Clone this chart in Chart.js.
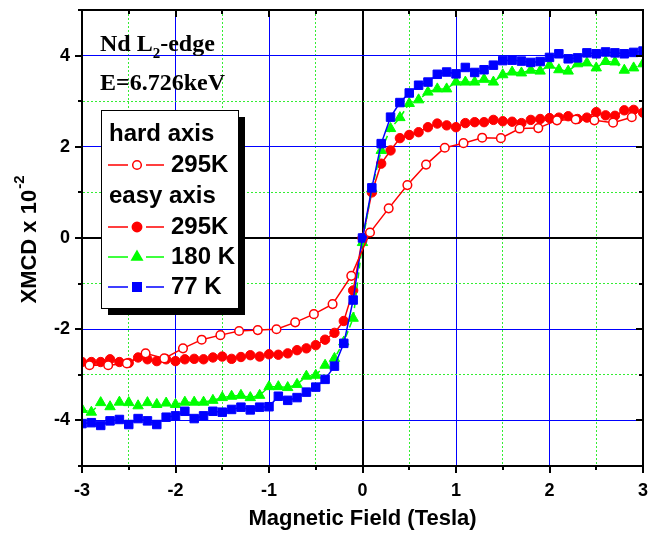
<!DOCTYPE html>
<html>
<head>
<meta charset="utf-8">
<script src="https://cdn.jsdelivr.net/npm/chart.js@4.4.0/dist/chart.umd.min.js"></script>
<style>
  html, body { margin: 0; padding: 0; background: #fff; }
</style>
</head>
<body>
<canvas id="myChart" width="659" height="533"></canvas>
<script>
// field values (Tesla)
let fieldEasy = [-3.0, -2.9, -2.8, -2.7, -2.6, -2.5, -2.4, -2.3, -2.2, -2.1,
  -2.0, -1.9, -1.8, -1.7, -1.6, -1.5, -1.4, -1.3, -1.2, -1.1,
  -1.0, -0.9, -0.8, -0.7, -0.6, -0.5, -0.4, -0.3, -0.2, -0.1,
  0.0, 0.1, 0.2, 0.3, 0.4, 0.5, 0.6, 0.7, 0.8, 0.9,
  1.0, 1.1, 1.2, 1.3, 1.4, 1.5, 1.6, 1.7, 1.8, 1.9,
  2.0, 2.1, 2.2, 2.3, 2.4, 2.5, 2.6, 2.7, 2.8, 2.9, 3.0];
let fieldHard = [-2.92, -2.72, -2.52, -2.32, -2.12, -1.92, -1.72, -1.52, -1.32, -1.12,
  -0.92, -0.72, -0.52, -0.32, -0.12, 0.08, 0.28, 0.48, 0.68, 0.88,
  1.08, 1.28, 1.48, 1.68, 1.88, 2.08, 2.28, 2.48, 2.68, 2.88];

// XMCD x 10^-2
let hard295 = [-2.79, -2.79, -2.75, -2.53, -2.64, -2.42, -2.23, -2.13, -2.04, -2.02,
  -2.00, -1.85, -1.67, -1.45, -0.83, 0.12, 0.65, 1.16, 1.61, 1.98,
  2.08, 2.20, 2.19, 2.40, 2.41, 2.58, 2.60, 2.58, 2.53, 2.65];
let easy295 = [-2.72, -2.72, -2.72, -2.66, -2.72, -2.74, -2.62, -2.66, -2.70, -2.66,
  -2.70, -2.66, -2.65, -2.66, -2.62, -2.60, -2.65, -2.61, -2.57, -2.60,
  -2.55, -2.56, -2.53, -2.46, -2.42, -2.35, -2.23, -2.08, -1.82, -1.15,
  0.00, 1.00, 1.63, 1.92, 2.19, 2.26, 2.32, 2.43, 2.51, 2.47,
  2.43, 2.52, 2.54, 2.54, 2.59, 2.56, 2.55, 2.52, 2.59, 2.61,
  2.63, 2.64, 2.67, 2.61, 2.64, 2.76, 2.69, 2.68, 2.80, 2.81, 2.75];
let easy180 = [-3.76, -3.82, -3.61, -3.70, -3.60, -3.61, -3.68, -3.61, -3.65, -3.62,
  -3.65, -3.60, -3.60, -3.60, -3.56, -3.50, -3.47, -3.45, -3.50, -3.45,
  -3.26, -3.26, -3.28, -3.21, -3.03, -3.01, -2.79, -2.64, -2.28, -1.76,
  -0.10, 1.08, 1.92, 2.40, 2.64, 2.95, 3.03, 3.20, 3.27, 3.27,
  3.42, 3.42, 3.42, 3.48, 3.42, 3.58, 3.64, 3.62, 3.68, 3.66,
  3.79, 3.69, 3.66, 3.82, 3.84, 3.73, 3.87, 3.86, 3.68, 3.73, 3.82];
let easy77 = [-4.07, -4.05, -4.11, -4.01, -3.98, -4.09, -3.96, -4.01, -4.09, -3.93,
  -3.90, -3.80, -3.96, -3.90, -3.80, -3.82, -3.76, -3.71, -3.77, -3.71,
  -3.70, -3.47, -3.56, -3.50, -3.38, -3.27, -3.10, -2.81, -2.31, -1.36,
  0.00, 1.10, 2.07, 2.65, 2.97, 3.18, 3.35, 3.42, 3.59, 3.64,
  3.60, 3.74, 3.63, 3.69, 3.79, 3.89, 3.90, 3.88, 3.85, 3.87,
  3.96, 4.04, 3.93, 3.95, 4.06, 4.04, 4.08, 4.06, 4.04, 4.07, 4.10];

let xTickLabels = ["-3", "-2", "-1", "0", "1", "2", "3"];
let yTickLabels = ["-4", "-2", "0", "2", "4"];

const sans = "'Liberation Sans', Arial, sans-serif";
const serif = "'Liberation Serif', 'Times New Roman', serif";

let pts = (xs, ys) => xs.map((x, i) => ({ x: x, y: ys[i] }));

function drawMarker(ctx, style, x, y, r, fill, stroke, lw) {
  ctx.beginPath();
  if (style === "circle") {
    ctx.arc(x, y, r, 0, Math.PI * 2);
  } else if (style === "triangle") {
    ctx.moveTo(x, y - r);
    ctx.lineTo(x + r * 0.866, y + r * 0.5);
    ctx.lineTo(x - r * 0.866, y + r * 0.5);
    ctx.closePath();
  } else {
    let s = r * Math.SQRT1_2;
    ctx.rect(x - s, y - s, 2 * s, 2 * s);
  }
  ctx.fillStyle = fill;
  ctx.fill();
  ctx.lineWidth = lw;
  ctx.strokeStyle = stroke;
  ctx.stroke();
}

// frame, ticks, titles, legend, annotation
const extras = {
  id: "extras",
  afterDraw(chart) {
    const ctx = chart.ctx;
    const a = chart.chartArea;
    const xs = chart.scales.x, ys = chart.scales.y;
    ctx.save();
    ctx.strokeStyle = "#000";
    ctx.lineWidth = 2;
    ctx.strokeRect(a.left, a.top, a.right - a.left, a.bottom - a.top);

    // ticks
    ctx.lineWidth = 2;
    xs.ticks.forEach((t) => {
      let px = Math.round(xs.getPixelForValue(t.value));
      let major = Number.isInteger(t.value);
      let len = major ? 7 : 4;
      ctx.beginPath();
      ctx.moveTo(px, a.bottom);
      ctx.lineTo(px, a.bottom + len);
      ctx.moveTo(px, a.top);
      ctx.lineTo(px, a.top + len);
      ctx.stroke();
    });
    ys.ticks.forEach((t) => {
      let py = Math.round(ys.getPixelForValue(t.value));
      let major = t.value % 2 === 0;
      let len = major ? 7 : 4;
      ctx.beginPath();
      ctx.moveTo(a.left, py);
      ctx.lineTo(a.left - len, py);
      ctx.moveTo(a.right, py);
      ctx.lineTo(a.right - len, py);
      ctx.stroke();
    });

    // axis titles
    ctx.fillStyle = "#000";
    ctx.font = "bold 22px " + sans;
    ctx.textAlign = "center";
    ctx.textBaseline = "middle";
    ctx.fillText("Magnetic Field (Tesla)", (a.left + a.right) / 2, 519);

    ctx.save();
    ctx.translate(30, 240);
    ctx.rotate(-Math.PI / 2);
    ctx.textAlign = "left";
    let main = "XMCD x 10";
    let w1 = ctx.measureText(main).width;
    ctx.font = "bold 15px " + sans;
    let w2 = ctx.measureText("-2").width;
    let start = -(w1 + w2) / 2;
    ctx.font = "bold 22px " + sans;
    ctx.fillText(main, start, 0);
    ctx.font = "bold 15px " + sans;
    ctx.fillText("-2", start + w1 + 1, -10);
    ctx.restore();

    // annotation
    ctx.textAlign = "left";
    ctx.textBaseline = "alphabetic";
    ctx.font = "bold 24px " + serif;
    let nd = "Nd L";
    ctx.fillText(nd, 100, 51);
    let wn = ctx.measureText(nd).width;
    ctx.font = "bold 15px " + serif;
    ctx.fillText("2", 100 + wn, 58);
    let ws = ctx.measureText("2").width;
    ctx.font = "bold 24px " + serif;
    ctx.fillText("-edge", 100 + wn + ws, 51);
    ctx.fillText("E=6.726keV", 100, 90);

    // legend
    let bx = 101, by = 110, bw = 137, bh = 198;
    ctx.fillStyle = "#000";
    ctx.fillRect(bx + 7, by + 7, bw, bh);
    ctx.fillStyle = "#fff";
    ctx.fillRect(bx, by, bw, bh);
    ctx.lineWidth = 1;
    ctx.strokeStyle = "#000";
    ctx.strokeRect(bx + 0.5, by + 0.5, bw, bh);

    ctx.font = "bold 24px " + sans;
    ctx.textBaseline = "middle";
    ctx.fillStyle = "#000";
    ctx.fillText("hard axis", 109, 134);
    ctx.fillText("easy axis", 109, 196);
    let rows = [[0, 165], [1, 227], [2, 257], [3, 287]];
    rows.forEach(([di, ry]) => {
      let ds = chart.data.datasets[di];
      ctx.save();
      ctx.strokeStyle = ds.borderColor;
      ctx.lineWidth = 1.5;
      ctx.beginPath();
      ctx.moveTo(108, ry);
      ctx.lineTo(128, ry);
      ctx.moveTo(146, ry);
      ctx.lineTo(164, ry);
      ctx.stroke();
      drawMarker(ctx, ds.pointStyle, 137, ry, ds.pointRadius, ds.pointBackgroundColor, ds.borderColor, 1.5);
      ctx.restore();
      ctx.fillStyle = "#000";
      ctx.fillText(ds.label, 171, ry);
    });
    ctx.restore();
  }
};

let isZero = (v) => Math.abs(v) < 1e-9;

let drawChart = () => {
  new Chart(document.getElementById("myChart").getContext("2d"), {
    type: "scatter",
    data: {
      datasets: [
        {
          label: "295K",
          data: pts(fieldHard, hard295),
          showLine: true,
          borderColor: "#ff0000",
          borderWidth: 1.5,
          pointStyle: "circle",
          pointRadius: 4.3,
          pointBackgroundColor: "#ffffff",
          pointBorderColor: "#ff0000",
          pointBorderWidth: 1.5,
          order: 0,
        },
        {
          label: "295K",
          data: pts(fieldEasy, easy295),
          showLine: true,
          borderColor: "#ff0000",
          borderWidth: 1.5,
          pointStyle: "circle",
          pointRadius: 4.7,
          pointBackgroundColor: "#ff0000",
          pointBorderColor: "#ff0000",
          pointBorderWidth: 1,
          order: 3,
        },
        {
          label: "180 K",
          data: pts(fieldEasy, easy180),
          showLine: true,
          borderColor: "#00ff00",
          borderWidth: 1.5,
          borderDash: [6, 4],
          pointStyle: "triangle",
          pointRadius: 6,
          pointBackgroundColor: "#00ff00",
          pointBorderColor: "#00ff00",
          pointBorderWidth: 1,
          order: 2,
        },
        {
          label: "77 K",
          data: pts(fieldEasy, easy77),
          showLine: true,
          borderColor: "#0000ff",
          borderWidth: 1.5,
          pointStyle: "rect",
          pointRadius: 6,
          pointBackgroundColor: "#0000ff",
          pointBorderColor: "#0000ff",
          pointBorderWidth: 1,
          order: 1,
        },
      ],
    },
    options: {
      responsive: false,
      animation: false,
      devicePixelRatio: 1,
      layout: { padding: { left: 0, top: 10, right: 16, bottom: 0 } },
      plugins: { legend: { display: false }, tooltip: { enabled: false } },
      scales: {
        x: {
          type: "linear",
          min: -3,
          max: 3,
          afterFit: (s) => { s.height = 67; s.paddingLeft = 0; s.paddingRight = 0; },
          ticks: {
            stepSize: 0.5,
            autoSkip: false,
            maxRotation: 0,
            padding: 14,
            color: "#000",
            font: { family: sans, size: 18, weight: "bold" },
            callback: (v) => (Number.isInteger(v) && xTickLabels.includes(String(v)) ? String(v) : ""),
          },
          grid: {
            drawTicks: false,
            color: (c) => {
              let v = c.tick.value;
              if (Math.abs(v) >= 3) return "rgba(0,0,0,0)";
              if (isZero(v)) return "#000";
              return Number.isInteger(v) ? "#0000ff" : "#33ee33";
            },
            lineWidth: (c) => (isZero(c.tick.value) ? 2 : 1),
          },
          border: {
            color: "#000",
            width: 2,
            dash: (c) => (c.tick && !Number.isInteger(c.tick.value) ? [2, 2] : []),
          },
        },
        y: {
          type: "linear",
          min: -5,
          max: 5,
          afterFit: (s) => { s.width = 82; s.paddingTop = 0; s.paddingBottom = 0; },
          ticks: {
            stepSize: 1,
            padding: 12,
            color: "#000",
            font: { family: sans, size: 18, weight: "bold" },
            callback: (v) => (yTickLabels.includes(String(v)) ? String(v) : ""),
          },
          grid: {
            drawTicks: false,
            color: (c) => {
              let v = c.tick.value;
              if (Math.abs(v) >= 5) return "rgba(0,0,0,0)";
              if (isZero(v)) return "#000";
              return v % 2 === 0 ? "#0000ff" : "#33ee33";
            },
            lineWidth: (c) => (isZero(c.tick.value) ? 2 : 1),
          },
          border: {
            color: "#000",
            width: 2,
            dash: (c) => (c.tick && c.tick.value % 2 !== 0 ? [2, 2] : []),
          },
        },
      },
    },
    plugins: [extras],
  });
};

drawChart();
</script>
</body>
</html>
